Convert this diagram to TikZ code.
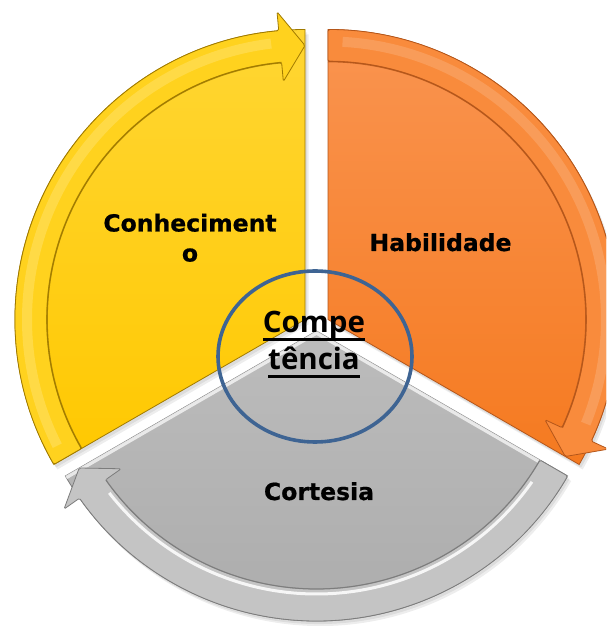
\documentclass[tikz,border=0pt]{standalone}
\usepackage{fontspec}
\setmainfont{DejaVu Sans}[BoldFeatures={FakeBold=0.7}]
\newfontfamily\centerfont{Open Sans}
\usetikzlibrary{calc,shapes.geometric}
\definecolor{yelA}{HTML}{FFD633}
\definecolor{yelB}{HTML}{FFC800}
\definecolor{yelBand}{HTML}{FFD21E}
\definecolor{yelDark}{HTML}{A07A00}
\definecolor{orA}{HTML}{FA9450}
\definecolor{orB}{HTML}{F57A20}
\definecolor{orBand}{HTML}{F98B3C}
\definecolor{orDark}{HTML}{B4561A}
\definecolor{grA}{HTML}{BCBCBC}
\definecolor{grB}{HTML}{AAAAAA}
\definecolor{grBand}{HTML}{C4C4C4}
\definecolor{grDark}{HTML}{7C7C7C}
\definecolor{ringblue}{HTML}{3E6493}
\newcommand\pathYsec{(0,0) -- (90:290) arc[start angle=90,end angle=210,radius=290] -- cycle}
\newcommand\pathYband{(210:290) arc[start angle=210,end angle=95.2,radius=290] -- (95.2:309) -- (90:274) -- (95.2:239) -- (95.2:258) arc[start angle=95.2,end angle=210,radius=258] -- cycle}
\newcommand\pathOsec{(0,0) -- (-30:290) arc[start angle=-30,end angle=90,radius=290] -- cycle}
\newcommand\pathOband{(90:290) arc[start angle=90,end angle=-24.8,radius=290] -- (-24.8:309) -- (-30:274) -- (-24.8:239) -- (-24.8:258) arc[start angle=-24.8,end angle=90,radius=258] -- cycle}
\newcommand\pathGsec{(0,0) -- (210:290) arc[start angle=210,end angle=330,radius=290] -- cycle}
\newcommand\pathGband{(330:290) arc[start angle=330,end angle=215.2,radius=290] -- (215.2:309) -- (210:274) -- (215.2:239) -- (215.2:258) arc[start angle=215.2,end angle=330,radius=258] -- cycle}
\newcommand\ulline[1]{\setbox0=\hbox{#1}\rlap{\rule[-8.5pt]{\wd0}{3pt}}\box0}
\begin{document}
\begin{tikzpicture}[x=1pt,y=1pt,
  softshadow/.style={fill=black,opacity=0.07},
  bandline/.style={line width=0.8pt, rounded corners=1.5pt},
  seclabel/.style={font=\fontsize{23.5}{30}\selectfont\bfseries, text=black, inner sep=0pt, align=center},
  centrelabel/.style={font=\centerfont\fontsize{29.5}{37}\selectfont\bfseries, text=black, inner sep=0pt, align=center},
  ring/.style={draw=ringblue, line width=3.6pt, ellipse, inner sep=0pt, minimum width=194pt, minimum height=171pt}]
\useasboundingbox (0,0) rectangle (606,626);
\clip (0,0) rectangle (606,626);
\fill[white] (0,0) rectangle (606,626);
% ---------- yellow sector ----------
\begin{scope}[shift={(305,306.5)}]
  \fill[softshadow,shift={(2,-3)}] \pathYsec;
  \fill[softshadow,shift={(3.5,-5)}] \pathYsec;
  \shadedraw[top color=yelA,bottom color=yelB,draw=yelDark,line width=0.8pt] \pathYsec;
  \filldraw[fill=yelBand,draw=yelDark,bandline] \pathYband;
  \draw[white,opacity=0.18,line width=10pt] (207:278) arc[start angle=207,end angle=97,radius=278];
  \draw[yelDark,line width=1.6pt,opacity=0.8] (210:258) arc[start angle=210,end angle=95.2,radius=258];
\end{scope}
% ---------- orange sector ----------
\begin{scope}[shift={(328,306.5)}]
  \fill[softshadow,shift={(2,-3)}] \pathOsec;
  \fill[softshadow,shift={(3.5,-5)}] \pathOsec;
  \shadedraw[top color=orA,bottom color=orB,draw=orDark,line width=0.8pt] \pathOsec;
  \filldraw[fill=orBand,draw=orDark,bandline] \pathOband;
  \draw[white,opacity=0.15,line width=10pt] (87:278) arc[start angle=87,end angle=-22,radius=278];
  \draw[orDark,line width=1.6pt,opacity=0.8] (90:258) arc[start angle=90,end angle=-24.8,radius=258];
\end{scope}
% ---------- grey sector ----------
\begin{scope}[shift={(316.5,295)}]
  \fill[softshadow,shift={(2,-3)}] \pathGsec;
  \fill[softshadow,shift={(3.5,-5)}] \pathGsec;
  \shadedraw[top color=grA,bottom color=grB,draw=grDark,line width=0.8pt] \pathGsec;
  \begin{scope}
    \clip \pathGsec;
    \draw[white,opacity=0.7,line width=7pt] (210:290) -- (0,0) -- (330:290);
  \end{scope}
  \filldraw[fill=grBand,draw=grDark,bandline] \pathGband;
  \draw[white,opacity=0.85,line width=3pt] (325:263) arc[start angle=325,end angle=218,radius=263];
  \draw[grDark,line width=1.2pt,opacity=0.7] (330:258) arc[start angle=330,end angle=215.2,radius=258];
\end{scope}
% ---------- labels ----------
\node[seclabel,anchor=base] (conh) at (190,364.5) {Conheciment\\o};
\node[seclabel,anchor=base] (hab) at (440.5,375) {Habilidade};
\node[seclabel,anchor=base] (cort) at (319,126) {Cortesia};
% ---------- centre ----------
\node[ring] (ringnode) at (315,269.5) {};
\node[centrelabel,anchor=base] (comp) at (314,256) {\ulline{Compe}\\\ulline{tência}};
\end{tikzpicture}
\end{document}
